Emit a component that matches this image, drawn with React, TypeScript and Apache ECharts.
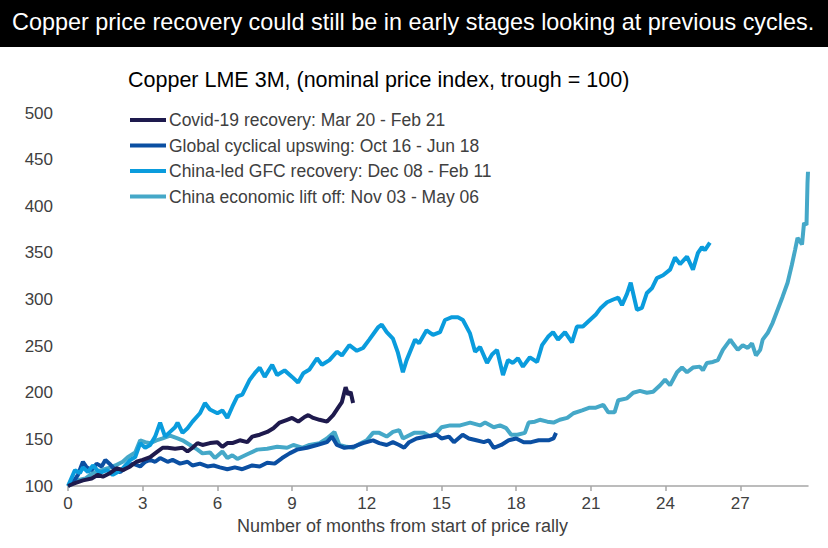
import React, { useEffect, useRef } from "react";
import * as echarts from "echarts";

const titleText = "Copper price recovery could still be in early stages looking at previous cycles.";
const subtitleText = "Copper LME 3M, (nominal price index, trough = 100)";
const xAxisTitle = "Number of months from start of price rally";

const seriesNames = [
  "Covid-19 recovery: Mar 20 - Feb 21",
  "Global cyclical upswing: Oct 16 - Jun 18",
  "China-led GFC recovery: Dec 08 - Feb 11",
  "China economic lift off: Nov 03 - May 06",
];
const seriesColors = ["#1E1A4D", "#0B4FA2", "#0A9CDD", "#45A8C8"];

// [months from start, index value]
const covid: number[][] = [
  [0, 100], [0.28, 103], [0.6, 106], [0.95, 108], [1.2, 112], [1.4, 110], [1.7, 114], [1.95, 119],
  [2.2, 117], [2.5, 121], [2.75, 126], [3.0, 128], [3.3, 131], [3.55, 136], [3.8, 141], [4.0, 141],
  [4.3, 140], [4.6, 141], [4.8, 137], [5.0, 141], [5.2, 146], [5.4, 144], [5.7, 146], [6.0, 147],
  [6.2, 142], [6.4, 146], [6.6, 146], [6.9, 149], [7.2, 147], [7.4, 153], [7.7, 155], [8.0, 158],
  [8.25, 162], [8.5, 168], [8.8, 171], [9.0, 173], [9.25, 169], [9.5, 174], [9.65, 176], [9.85, 173],
  [10.1, 171], [10.4, 169], [10.65, 176], [10.85, 184], [11.0, 190], [11.15, 206], [11.25, 198],
  [11.35, 201], [11.45, 189],
];

const globalUpswing: number[][] = [
  [0, 100], [0.2, 104], [0.4, 112], [0.6, 126], [0.75, 120], [0.95, 117], [1.15, 124], [1.35, 121],
  [1.5, 128], [1.7, 123], [1.9, 117], [2.1, 115], [2.4, 121], [2.6, 124], [2.9, 121], [3.1, 126],
  [3.3, 128], [3.5, 126], [3.7, 130], [4.0, 126], [4.2, 128], [4.5, 124], [4.8, 126], [5.0, 122],
  [5.3, 124], [5.6, 121], [5.85, 122], [6.1, 120], [6.4, 118], [6.7, 120], [7.0, 118], [7.4, 122],
  [7.7, 121], [8.0, 125], [8.3, 124], [8.6, 130], [8.9, 135], [9.2, 139], [9.6, 141], [10.0, 144],
  [10.4, 147], [10.6, 153], [10.8, 144], [11.1, 141], [11.45, 142], [11.85, 146], [12.25, 149],
  [12.5, 146], [12.8, 144], [13.05, 147], [13.3, 144], [13.5, 141], [13.7, 147], [14.0, 151],
  [14.4, 153], [14.8, 155], [15.0, 151], [15.3, 153], [15.5, 147], [15.85, 155], [16.1, 151],
  [16.4, 149], [16.7, 147], [16.9, 149], [17.1, 141], [17.4, 144], [17.7, 149], [18.0, 151],
  [18.3, 147], [18.6, 147], [18.9, 149], [19.3, 149], [19.5, 151], [19.6, 157],
];

const gfcRecovery: number[][] = [
  [0, 100], [0.28, 117], [0.48, 114], [0.6, 120], [0.8, 115], [1.0, 122], [1.28, 114], [1.56, 117],
  [1.8, 112], [2.0, 115], [2.2, 119], [2.5, 128], [2.7, 131], [2.9, 146], [3.1, 141], [3.3, 144],
  [3.5, 153], [3.7, 168], [3.9, 153], [4.1, 158], [4.3, 163], [4.4, 168], [4.6, 157], [4.8, 162],
  [5.0, 169], [5.3, 178], [5.5, 189], [5.7, 182], [6.0, 178], [6.2, 181], [6.4, 173], [6.6, 185],
  [6.8, 196], [7.0, 198], [7.3, 214], [7.5, 221], [7.7, 227], [7.9, 217], [8.2, 230], [8.4, 219],
  [8.7, 224], [9.0, 217], [9.24, 211], [9.45, 221], [9.7, 225], [10.0, 237], [10.2, 230],
  [10.5, 235], [10.8, 244], [11.0, 240], [11.3, 251], [11.6, 245], [11.85, 248], [12.1, 257],
  [12.45, 270], [12.6, 273], [12.8, 265], [13.05, 258], [13.25, 243], [13.45, 222], [13.6, 235],
  [13.94, 257], [14.1, 253], [14.4, 267], [14.66, 262], [14.94, 265], [15.14, 278], [15.42, 281],
  [15.66, 281], [15.86, 278], [16.14, 264], [16.35, 244], [16.55, 249], [16.83, 232], [17.03, 241],
  [17.23, 246], [17.47, 219], [17.67, 235], [17.87, 232], [18.07, 237], [18.27, 228], [18.55, 238],
  [18.84, 233], [19.04, 251], [19.28, 260], [19.48, 265], [19.68, 257], [19.96, 265], [20.24, 254],
  [20.44, 271], [20.68, 271], [20.96, 278], [21.2, 284], [21.4, 291], [21.65, 297], [21.9, 300],
  [22.1, 302], [22.25, 294], [22.45, 306], [22.6, 318], [22.85, 289], [23.05, 291], [23.25, 307],
  [23.45, 312], [23.65, 323], [23.9, 326], [24.18, 332], [24.38, 345], [24.58, 338], [24.86, 346],
  [25.1, 332], [25.3, 350], [25.46, 356], [25.58, 353], [25.78, 361],
];

const chinaLiftOff: number[][] = [
  [0, 100], [0.35, 106], [0.7, 108], [1.0, 114], [1.35, 117], [1.6, 119], [1.9, 122], [2.2, 126],
  [2.4, 131], [2.7, 136], [2.9, 149], [3.1, 147], [3.3, 146], [3.55, 149], [3.8, 151], [4.1, 154],
  [4.4, 151], [4.6, 149], [4.9, 144], [5.2, 139], [5.4, 135], [5.7, 136], [5.9, 130], [6.2, 137],
  [6.4, 130], [6.6, 133], [6.8, 129], [7.2, 134], [7.6, 139], [8.0, 140], [8.4, 142], [8.8, 141],
  [9.05, 144], [9.4, 141], [9.7, 144], [10.1, 146], [10.4, 151], [10.7, 158], [10.9, 144],
  [11.2, 142], [11.45, 141], [11.7, 145], [12.0, 149], [12.25, 157], [12.5, 157], [12.8, 153],
  [13.05, 158], [13.3, 160], [13.45, 151], [13.9, 157], [14.3, 157], [14.55, 153], [14.8, 157],
  [15.0, 163], [15.35, 165], [15.75, 165], [16.15, 168], [16.55, 165], [16.75, 168], [17.1, 163],
  [17.35, 165], [17.6, 162], [17.8, 155], [18.05, 155], [18.35, 157], [18.5, 168], [18.75, 169],
  [18.95, 171], [19.25, 169], [19.5, 168], [19.75, 171], [20.05, 173], [20.3, 178], [20.65, 181],
  [20.95, 184], [21.2, 184], [21.5, 187], [21.7, 179], [21.95, 179], [22.1, 192], [22.45, 194],
  [22.7, 200], [22.97, 202], [23.25, 200], [23.5, 201], [23.78, 208], [23.98, 214], [24.18, 208],
  [24.46, 222], [24.66, 227], [24.86, 222], [25.1, 227], [25.38, 228], [25.5, 224], [25.66, 232],
  [25.9, 233], [26.1, 235], [26.3, 246], [26.6, 257], [26.7, 253], [26.9, 246], [27.1, 251],
  [27.3, 248], [27.47, 253], [27.63, 240], [27.8, 246], [27.9, 257], [28.1, 264], [28.3, 275],
  [28.5, 289], [28.7, 303], [28.9, 318], [29.07, 337], [29.2, 353], [29.3, 366], [29.48, 359],
  [29.56, 382], [29.66, 380], [29.7, 425], [29.72, 437],
];

const seriesData = [covid, globalUpswing, gfcRecovery, chinaLiftOff];
const drawOrder = [3, 1, 2, 0];

export default function App() {
  const ref = useRef<HTMLDivElement>(null);
  useEffect(() => {
    if (!ref.current) return;
    const chart = echarts.init(ref.current, undefined, { renderer: "svg" });
    const font = "'Liberation Sans', Arial, sans-serif";
    chart.setOption({
      animation: false,
      backgroundColor: "#ffffff",
      textStyle: { fontFamily: font },
      grid: { left: 68, right: 20, top: 113, bottom: 62, containLabel: false },
      xAxis: {
        type: "value",
        min: 0,
        max: 29.72,
        interval: 3,
        axisLine: { show: true, lineStyle: { color: "#A6A6A6", width: 1.5 } },
        axisTick: { show: true, length: 5, lineStyle: { color: "#A6A6A6", width: 1.5 } },
        axisLabel: { color: "#404040", fontSize: 17, margin: 9, fontFamily: font, showMaxLabel: false },
        splitLine: { show: false },
      },
      yAxis: {
        type: "value",
        min: 100,
        max: 500,
        interval: 50,
        axisLine: { show: false },
        axisTick: { show: false },
        axisLabel: { color: "#404040", fontSize: 17, margin: 15, fontFamily: font },
        splitLine: { show: false },
      },
      legend: {
        orient: "vertical",
        left: 130,
        top: 110,
        padding: 0,
        itemWidth: 36,
        itemHeight: 4,
        itemGap: 5.5,
        icon: "rect",
        data: seriesNames,
        textStyle: { color: "#404040", fontSize: 17.5, fontFamily: font, lineHeight: 20, padding: [0, 0, 0, -2] },
      },
      graphic: [
        { type: "rect", left: 0, top: 0, shape: { width: 828, height: 47 }, style: { fill: "#000000" } },
        {
          type: "text",
          left: 12,
          top: 10,
          style: { text: titleText, fill: "#ffffff", font: `23.4px ${font}` },
        },
        {
          type: "text",
          left: 128,
          top: 69,
          style: { text: subtitleText, fill: "#000000", font: `21.5px ${font}` },
        },
        {
          type: "text",
          left: 237,
          top: 517,
          style: { text: xAxisTitle, fill: "#404040", font: `18px ${font}` },
        },
      ],
      series: drawOrder.map((i) => ({
        name: seriesNames[i],
        type: "line",
        data: seriesData[i],
        showSymbol: false,
        symbol: "none",
        color: seriesColors[i],
        lineStyle: { color: seriesColors[i], width: 4 },
        z: 2,
      })),
    });
    return () => chart.dispose();
  }, []);
  return <div ref={ref} style={{ width: 828, height: 548, position: "absolute", left: 0, top: 0 }} />;
}
